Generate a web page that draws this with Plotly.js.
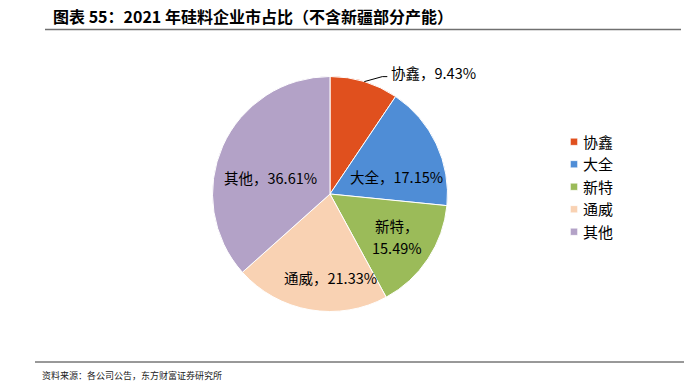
<!DOCTYPE html>
<html>
<head>
<meta charset="utf-8">
<script src="https://cdn.plot.ly/plotly-3.0.1.min.js"></script>
<style>
html,body{margin:0;padding:0;background:#fff;}
#chart{width:684px;height:382px;}
.legendpie{transform:translate(31px,0px) scale(0.6);}
</style>
</head>
<body>
<div id="chart"></div>
<script>
// Data
const companies = ['协鑫', '大全', '新特', '通威', '其他'];
const shares = [9.43, 17.15, 15.49, 21.33, 36.61];
const sliceColors = ['#E0501E', '#4F8DD6', '#9BBB59', '#F9D2B3', '#B3A2C7'];
const titleText = '图表 55：2021 年硅料企业市占比（不含新疆部分产能）';
const sourceText = '资料来源：各公司公告，东方财富证券研究所';

const W = 684, H = 382;
const cx = 330, cy = 194, r = 117.5;
const FONT = '"Noto Sans CJK SC", sans-serif';
const px = v => v / W, py = v => 1 - v / H;

// label placement (offsets from pie centre, px); first slice uses a leader line
const labelOffsets = [null, [67, -18], [67, 42], [0, 83], [-60, -17]];
const splitLabel = [false, false, true, false, false];

const total = shares.reduce((a, b) => a + b, 0);
const midAng = (shares[0] / 2 / total) * 2 * Math.PI;
const ex = cx + r * Math.sin(midAng), ey = cy - r * Math.cos(midAng);
const kx = ex + 18, ky = ey - 5;
const hx = kx + 5;

const labelFont = {family: FONT, size: 14.5, color: '#000'};
const labelAnnotations = [];
companies.forEach((name, i) => {
  const val = shares[i].toFixed(2) + '%';
  if (labelOffsets[i] === null) {
    labelAnnotations.push({text: `${name}，${val}`, xref: 'paper', yref: 'paper',
      x: px(hx + 2), y: py(ky - 4), xanchor: 'left', yanchor: 'middle', showarrow: false, font: labelFont});
    return;
  }
  const [dx, dy] = labelOffsets[i];
  if (splitLabel[i]) {
    labelAnnotations.push({text: `${name}，`, xref: 'paper', yref: 'paper',
      x: px(cx + dx), y: py(cy + dy - 11), xanchor: 'center', yanchor: 'middle', showarrow: false, font: labelFont});
    labelAnnotations.push({text: val, xref: 'paper', yref: 'paper',
      x: px(cx + dx), y: py(cy + dy + 11), xanchor: 'center', yanchor: 'middle', showarrow: false, font: labelFont});
  } else {
    labelAnnotations.push({text: `${name}，${val}`, xref: 'paper', yref: 'paper',
      x: px(cx + dx), y: py(cy + dy), xanchor: 'center', yanchor: 'middle', showarrow: false, font: labelFont});
  }
});

const trace = {
  type: 'pie',
  labels: companies,
  values: shares,
  sort: false,
  direction: 'clockwise',
  rotation: 0,
  marker: {colors: sliceColors, line: {color: '#ffffff', width: 1}},
  textinfo: 'none',
  hoverinfo: 'label+value',
  domain: {
    x: [(cx - r) / W, (cx + r) / W],
    y: [1 - (cy + r) / H, 1 - (cy - r) / H]
  }
};

const layout = {
  width: W, height: H,
  margin: {l: 0, r: 0, t: 0, b: 0},
  paper_bgcolor: '#fff',
  font: {family: FONT, color: '#000'},
  title: {
    text: titleText,
    x: 53 / W, xref: 'container', xanchor: 'left',
    y: 1 - 17 / H, yref: 'container', yanchor: 'middle',
    font: {family: FONT, size: 16, weight: 'bold', color: '#000'}
  },
  showlegend: true,
  legend: {
    x: 543 / W, xanchor: 'left',
    y: 1 - 187 / H, yanchor: 'middle',
    font: {family: FONT, size: 15, color: '#000'},
    bgcolor: 'rgba(0,0,0,0)'
  },
  shapes: [
    {type: 'line', xref: 'paper', yref: 'paper', x0: 45 / W, x1: 681 / W, y0: 1 - 29.5 / H, y1: 1 - 29.5 / H,
     line: {color: '#707070', width: 1.5}},
    {type: 'line', xref: 'paper', yref: 'paper', x0: 35 / W, x1: 1, y0: 1 - 362 / H, y1: 1 - 362 / H,
     line: {color: '#333333', width: 1}},
    {type: 'path', xref: 'paper', yref: 'paper',
     path: `M${px(ex)},${py(ey)} L${px(kx)},${py(ky)} L${px(hx)},${py(ky)}`,
     line: {color: '#000', width: 1}}
  ],
  annotations: labelAnnotations.concat([
    {text: sourceText, xref: 'paper', yref: 'paper', x: 40 / W, y: 1 - 375 / H,
     xanchor: 'left', yanchor: 'middle', showarrow: false,
     font: {family: FONT, size: 9, color: '#222'}}
  ])
};

Plotly.newPlot('chart', [trace], layout, {staticPlot: true, displayModeBar: false});
</script>
</body>
</html>
